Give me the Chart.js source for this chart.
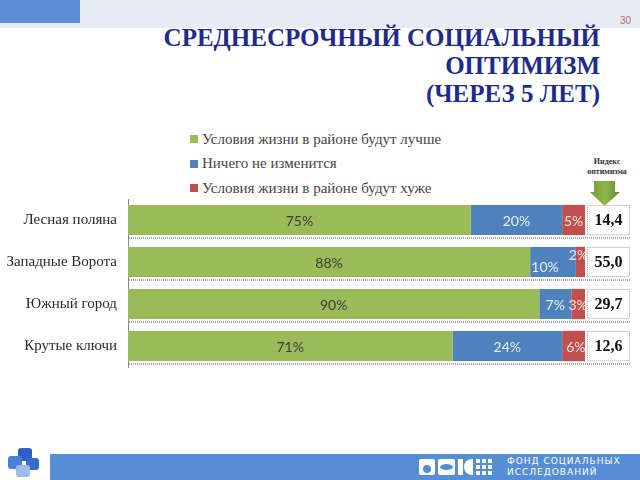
<!DOCTYPE html>
<html>
<head>
<meta charset="utf-8">
<title>Среднесрочный социальный оптимизм</title>
<script src="https://cdn.jsdelivr.net/npm/chart.js@4.4.0/dist/chart.umd.min.js"></script>
<style>
    html, body { margin: 0; padding: 0; background: #fff; }
    #page { position: relative; width: 640px; height: 480px; overflow: hidden; }
    #topband { position: absolute; left: 0; top: 0; width: 640px; height: 28px; background: #e6ebf4; }
    #topblock { position: absolute; left: 0; top: 0; width: 80px; height: 23px; background: #5b8fd5; }
    #pagenum { position: absolute; left: 620px; top: 15px; font: 10px "Liberation Sans", sans-serif; color: #b86a6a; }
    #title {
        position: absolute; right: 40px; top: 24px; text-align: right;
        font: bold 25px/28px "Liberation Serif", serif; color: #1f2b8c;
    }
    #legend { position: absolute; left: 190px; top: 127px; }
    .legend-item { display: flex; align-items: center; height: 24.5px; font: 15px "Liberation Serif", serif; color: #444; }
    .legend-box { width: 8px; height: 8px; margin-right: 4px; }
    #idxcap {
        position: absolute; left: 583px; top: 157px; width: 48px; text-align: center;
        font: bold 8px/10px "Liberation Serif", serif; color: #333;
    }
    #arrow { position: absolute; left: 589px; top: 181px; }
    #chartwrap { position: absolute; left: 0; top: 0; width: 640px; height: 480px; }
    #footer { position: absolute; left: 50px; top: 454px; width: 590px; height: 26px; background: #558ed5; }
    #fondtext {
        position: absolute; left: 507px; top: 456px; color: #fff;
        font: 9px/10.5px "DejaVu Sans", sans-serif; letter-spacing: 1px;
    }
    .ico { position: absolute; background: #fff; }
    .pz { position: absolute; border-radius: 3px; }
</style>
</head>
<body>
<div id="page">
    <div id="topband"></div>
    <div id="topblock"></div>
    <div id="pagenum">30</div>
    <div id="title">СРЕДНЕСРОЧНЫЙ СОЦИАЛЬНЫЙ<br>ОПТИМИЗМ<br>(ЧЕРЕЗ 5 ЛЕТ)</div>
    <div id="legend"></div>
    <div id="idxcap">Индекс<br>оптимизма</div>
    <svg id="arrow" width="32" height="26">
        <defs>
            <linearGradient id="ag" x1="0" y1="0" x2="1" y2="0">
                <stop offset="0" stop-color="#6e9a32"/>
                <stop offset="0.5" stop-color="#8fb84c"/>
                <stop offset="1" stop-color="#5d8728"/>
            </linearGradient>
        </defs>
        <polygon points="5,0 26,0 26,11 31,11 15.5,25 1,11 5,11" fill="url(#ag)"/>
    </svg>

    <div id="footer"></div>
    <div class="ico" style="left:419px;top:459px;width:16px;height:16px;border-radius:2px;"></div>
    <div style="position:absolute;left:423px;top:465px;width:8px;height:8px;border-radius:50%;background:#558ed5;"></div>
    <div class="ico" style="left:438px;top:459px;width:17px;height:16px;border-radius:2px;"></div>
    <div style="position:absolute;left:440px;top:464px;width:13px;height:6px;border-radius:50%;background:#558ed5;"></div>
    <div class="ico" style="left:458px;top:459px;width:5px;height:16px;"></div>
    <div class="ico" style="left:464px;top:459px;width:9px;height:16px;border-radius:8px 0 0 8px;"></div>
    <div class="ico" style="left:476px;top:459px;width:4px;height:4px;"></div>
    <div class="ico" style="left:482px;top:459px;width:4px;height:4px;"></div>
    <div class="ico" style="left:488px;top:459px;width:4px;height:4px;"></div>
    <div class="ico" style="left:476px;top:465px;width:4px;height:4px;"></div>
    <div class="ico" style="left:482px;top:465px;width:4px;height:4px;"></div>
    <div class="ico" style="left:488px;top:465px;width:4px;height:4px;"></div>
    <div class="ico" style="left:476px;top:471px;width:4px;height:4px;"></div>
    <div class="ico" style="left:482px;top:471px;width:4px;height:4px;"></div>
    <div class="ico" style="left:488px;top:471px;width:4px;height:4px;"></div>
    <div id="fondtext">ФОНД СОЦИАЛЬНЫХ<br>ИССЛЕДОВАНИЙ</div>

    <div class="pz" style="left:18px;top:448px;width:14px;height:13px;background:#2d5fc4;"></div>
    <div class="pz" style="left:8px;top:456px;width:14px;height:13px;background:#4a7fd6;"></div>
    <div class="pz" style="left:26px;top:458px;width:13px;height:12px;background:#3a6bc8;"></div>
    <div class="pz" style="left:16px;top:465px;width:14px;height:12px;background:#9cbde8;"></div>

    <div id="chartwrap"><canvas id="chart" width="640" height="480"></canvas></div>
</div>

<script>
// Данные графика
const categories = ['Лесная поляна', 'Западные Ворота', 'Южный город', 'Крутые ключи'];
const seriesNames = [
    'Условия жизни в районе будут лучше',
    'Ничего не изменится',
    'Условия жизни в районе будут хуже'
];
const betterValues = [75, 88, 90, 71];
const sameValues = [20, 10, 7, 24];
const worseValues = [5, 2, 3, 6];
const optimismIndex = [14.4, 55.0, 29.7, 12.6];

const seriesColors = ['#9bbb59', '#4f81bd', '#c0504d'];
const labelColors = ['#3c3c3c', '#e9f0f8', '#f6e2e1'];

// Подписи процентов внутри сегментов
const segmentLabels = {
    id: 'segmentLabels',
    afterDatasetsDraw(chart) {
        const { ctx, data } = chart;
        ctx.save();
        ctx.font = '14px Lato, sans-serif';
        ctx.textAlign = 'center';
        ctx.textBaseline = 'middle';
        data.datasets.forEach((ds, di) => {
            const meta = chart.getDatasetMeta(di);
            meta.data.forEach((bar, i) => {
                const value = ds.data[i];
                const next = data.datasets[di + 1] ? data.datasets[di + 1].data[i] : null;
                let x = (bar.x + bar.base) / 2;
                let y = bar.y;
                // маленький сегмент — подпись поднимаем
                if (value <= 2) {
                    y -= 8;
                    x -= 2;
                } else if (next !== null && next <= 2) {
                    y += 4;
                    x -= 8;
                }
                ctx.fillStyle = labelColors[di];
                ctx.fillText(value + '%', x, y + 1);
            });
        });
        ctx.restore();
    }
};

// Пунктир под строками и ячейки индекса оптимизма
const indexBoxes = {
    id: 'indexBoxes',
    afterDatasetsDraw(chart) {
        const { ctx, chartArea } = chart;
        const meta = chart.getDatasetMeta(0);
        const boxLeft = chartArea.right + 2;
        const boxRight = chartArea.right + 45;
        ctx.save();
        meta.data.forEach((bar, i) => {
            const top = bar.y - bar.height / 2;
            const bottom = bar.y + bar.height / 2;

            ctx.setLineDash([1, 1]);
            ctx.strokeStyle = '#a8a8a8';
            ctx.lineWidth = 2;
            ctx.beginPath();
            ctx.moveTo(chartArea.left + 1, bottom + 3);
            ctx.lineTo(boxRight, bottom + 3);
            ctx.stroke();

            ctx.fillStyle = '#fff';
            ctx.fillRect(boxLeft, top, boxRight - boxLeft, bottom - top);
            ctx.lineWidth = 1;
            ctx.strokeStyle = '#9aa88a';
            ctx.strokeRect(boxLeft + 0.5, top + 0.5, boxRight - boxLeft - 1, bottom - top - 1);

            ctx.setLineDash([]);
            ctx.fillStyle = '#111';
            ctx.font = 'bold 16px "Liberation Serif", serif';
            ctx.textAlign = 'center';
            ctx.textBaseline = 'middle';
            ctx.fillText(optimismIndex[i].toFixed(1).replace('.', ','), (boxLeft + boxRight) / 2, bar.y + 1);
        });
        ctx.restore();
    }
};

const valueLists = [betterValues, sameValues, worseValues];

const chart = new Chart(document.getElementById('chart'), {
    type: 'bar',
    data: {
        labels: categories,
        datasets: seriesNames.map((name, i) => ({
            label: name,
            data: valueLists[i],
            backgroundColor: seriesColors[i],
            borderWidth: 0,
            categoryPercentage: 1,
            barPercentage: 0.72,
            clip: 0,
        })),
    },
    options: {
        indexAxis: 'y',
        responsive: false,
        animation: false,
        layout: {
            padding: { top: 199, bottom: 113, left: 0, right: 55 },
        },
        plugins: {
            legend: { display: false },
            tooltip: { enabled: false },
        },
        scales: {
            x: {
                stacked: true,
                display: false,
                min: 0,
                max: 100,
            },
            y: {
                stacked: true,
                afterFit: (scale) => { scale.width = 128; },
                grid: { display: false, drawTicks: false },
                border: { display: true, color: '#8a8a8a', width: 1 },
                ticks: {
                    padding: 11,
                    color: '#2a2a2a',
                    font: { family: '"Liberation Serif", serif', size: 15 },
                },
            },
        },
    },
    plugins: [segmentLabels, indexBoxes],
});

// Легенда столбиком, как на слайде
const legendEl = document.getElementById('legend');
chart.data.datasets.forEach((ds) => {
    const item = document.createElement('div');
    item.className = 'legend-item';
    const box = document.createElement('span');
    box.className = 'legend-box';
    box.style.background = ds.backgroundColor;
    const text = document.createElement('span');
    text.textContent = ds.label;
    item.appendChild(box);
    item.appendChild(text);
    legendEl.appendChild(item);
});
</script>
</body>
</html>
